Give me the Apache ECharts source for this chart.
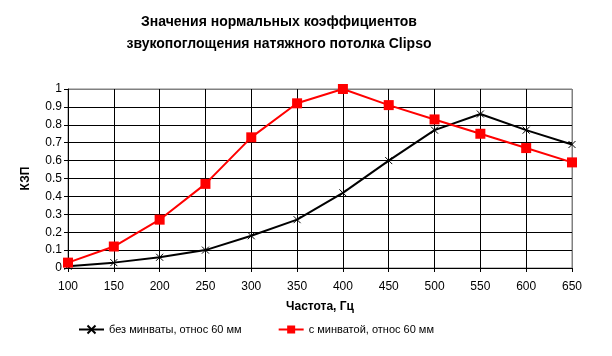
<!DOCTYPE html>
<html><head><meta charset="utf-8">
<script src="https://cdn.jsdelivr.net/npm/echarts@6/dist/echarts.min.js"></script>
<style>html,body{margin:0;padding:0;background:#fff}#c{width:612px;height:356px}</style>
</head><body><div id="c"></div>
<script>
const categories = ['100','150','200','250','300','350','400','450','500','550','600','650'];
const noWool = [0.01,0.03,0.06,0.10,0.18,0.27,0.42,0.60,0.77,0.86,0.77,0.69];
const withWool = [0.03,0.12,0.27,0.47,0.73,0.92,1.00,0.91,0.83,0.75,0.67,0.59];
const seriesNames = ['без минваты, относ 60 мм','с минватой, относ 60 мм'];
const titleText = 'Значения нормальных коэффициентов\nзвукопоглощения натяжного потолка Clipso';

const F = '"Liberation Sans", Arial, sans-serif';
const ySplitColors = ['#000','#000','#000','#000','#000','#000','#000','#000','#000','#000','#808080'];
const xSplitColors = ['#000','#000','#000','#000','#000','#000','#000','#000','#000','#000','#000','#808080'];
const chart = echarts.init(document.getElementById('c'), null, {renderer:'canvas'});
chart.setOption({
  animation:false,
  backgroundColor:'#fff',
  title:{text:titleText, left:274, textAlign:'center', top:6,
    textStyle:{fontFamily:F, fontSize:14, fontWeight:'bold', color:'#000', lineHeight:22}},
  grid:{left:68, right:40, top:89, bottom:88, show:true, borderColor:'#808080', borderWidth:1},
  legend:{left:73, top:319, itemWidth:25, itemHeight:10, itemGap:36,
    textStyle:{fontFamily:F, fontSize:11, color:'#000'}, data:seriesNames},
  xAxis:{type:'category', data:categories, boundaryGap:false,
    name:'Частота, Гц', nameLocation:'middle', nameGap:33,
    nameTextStyle:{fontFamily:F, fontSize:12, fontWeight:'bold', color:'#000'},
    axisLine:{lineStyle:{color:'#000', width:1}},
    axisTick:{show:true, length:4, lineStyle:{color:'#000'}},
    axisLabel:{fontFamily:F, fontSize:12, color:'#000', margin:13},
    splitLine:{show:true, lineStyle:{color:xSplitColors, width:1}}},
  yAxis:{type:'value', min:0, max:1, interval:0.1,
    name:'КЗП', nameLocation:'middle', nameGap:36, nameRotate:90,
    nameTextStyle:{fontFamily:F, fontSize:12, fontWeight:'bold', color:'#000'},
    axisLine:{show:true, lineStyle:{color:'#000', width:1}},
    axisTick:{show:true, length:4, lineStyle:{color:'#000'}},
    axisLabel:{fontFamily:F, fontSize:12, color:'#000', margin:6,
      formatter:v=>String(Math.round(v*10)/10)},
    splitLine:{show:true, lineStyle:{color:ySplitColors, width:1}}},
  series:[
    {name:seriesNames[0], type:'line', data:noWool,
     symbol:'path://M0,0L10,10M10,0L0,10', symbolSize:7, showAllSymbol:true,
     lineStyle:{color:'#000', width:2},
     itemStyle:{color:'#000', borderColor:'#000', borderWidth:1}},
    {name:seriesNames[1], type:'line', data:withWool,
     symbol:'rect', symbolSize:10, showAllSymbol:true,
     lineStyle:{color:'#ff0000', width:2},
     itemStyle:{color:'#ff0000'}}
  ]
});
</script></body></html>
